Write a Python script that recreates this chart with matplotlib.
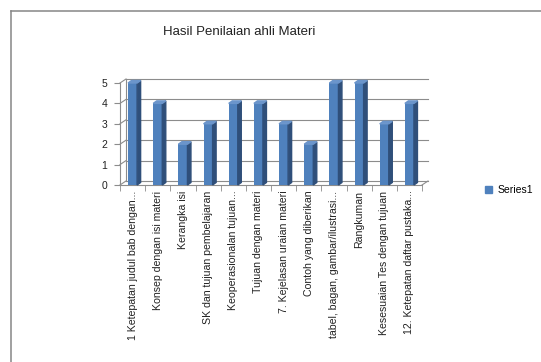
import matplotlib
matplotlib.use("Agg")
import matplotlib.pyplot as plt
from matplotlib.patches import Polygon
from matplotlib.lines import Line2D
import numpy as np

# data
categories = ["1 Ketepatan judul bab dengan...", "Konsep dengan isi materi", "Kerangka isi",
              "SK dan tujuan pembelajaran", "Keoperasionalan tujuan...", "Tujuan dengan materi",
              "7. Kejelasan uraian materi", "Contoh yang diberikan",
              "tabel, bagan, gambar/ilustrasi...", "Rangkuman", "Kesesuaian Tes dengan tujuan",
              "12. Ketepatan daftar pustaka..."]
scores = [5, 4, 2, 3, 4, 4, 3, 2, 5, 5, 3, 4]
series_name = "Series1"
y_ticks = [0, 1, 2, 3, 4, 5]

plt.rcParams['font.family'] = ['Liberation Sans', 'DejaVu Sans']

W, H, DPI = 541, 362, 100
fig = plt.figure(figsize=(W / DPI, H / DPI), dpi=DPI)
fig.patch.set_facecolor('white')

ax_l, ax_r, ax_b, ax_t = 120, 422, 185, 83   # pixel box of the front plane
ax = fig.add_axes([ax_l / W, 1 - ax_b / H, (ax_r - ax_l) / W, (ax_b - ax_t) / H])
n = len(categories)
x = np.arange(n)
ax.set_xlim(-0.5, n - 0.5)
ax.set_ylim(0, 5)

# pixel -> data conversions for the 3d look
px_x = (ax_r - ax_l) / n
px_y = (ax_b - ax_t) / 5.0
wall_dx, wall_dy = 6 / px_x, 4 / px_y
bar_dx, bar_dy = 3.5 / px_x, 2.5 / px_y

grid_c = '#8c8c8c'
# back wall gridlines and side wall
for yv in y_ticks:
    ax.plot([-0.5 + wall_dx, n - 0.5 + wall_dx], [yv + wall_dy, yv + wall_dy],
            color=grid_c, lw=0.8, clip_on=False, zorder=1)
    ax.plot([-0.5, -0.5 + wall_dx], [yv, yv + wall_dy], color=grid_c, lw=0.8,
            clip_on=False, zorder=1)
ax.plot([-0.5 + wall_dx, -0.5 + wall_dx], [wall_dy, 5 + wall_dy], color=grid_c, lw=0.8,
        clip_on=False, zorder=1)
ax.plot([n - 0.5, n - 0.5 + wall_dx], [0, wall_dy], color=grid_c, lw=0.8, clip_on=False, zorder=1)

bar_w = 0.36
front_c, side_c, top_c = '#4f81bd', '#2f4f7a', '#6b95cb'
ax.bar(x, scores, width=bar_w, color=front_c, zorder=3)
for xi, v in zip(x, scores):
    r = xi + bar_w / 2
    l = xi - bar_w / 2
    ax.add_patch(Polygon([(r, 0), (r, v), (r + bar_dx, v + bar_dy), (r + bar_dx, bar_dy)],
                         closed=True, color=side_c, zorder=3, clip_on=False))
    ax.add_patch(Polygon([(l, v), (r, v), (r + bar_dx, v + bar_dy), (l + bar_dx, v + bar_dy)],
                         closed=True, color=top_c, zorder=3, clip_on=False))

for s in ['top', 'right']:
    ax.spines[s].set_visible(False)
for s in ['left', 'bottom']:
    ax.spines[s].set_color(grid_c)
    ax.spines[s].set_linewidth(0.8)
ax.patch.set_alpha(0)

ax.set_yticks(y_ticks)
ax.tick_params(axis='y', length=4, color=grid_c, labelsize=7.5, pad=5, labelcolor='#222222')
ax.set_xticks(x)
ax.set_xticklabels(categories, rotation=90, fontsize=7.6, color='#222222')
ax.tick_params(axis='x', which='major', length=0, pad=4)
ax.set_xticks(np.arange(-0.5, n), minor=True)
ax.tick_params(axis='x', which='minor', length=4, color=grid_c, direction='out')

fig.text(239 / W, 1 - 32 / H, "Hasil Penilaian ahli Materi", ha='center', va='center',
         fontsize=9.5, color='#222222')

# outer chart frame
fx, fy = 10.5 / W, 1 - 10.5 / H
fig.add_artist(Line2D([fx, 1], [fy, fy], transform=fig.transFigure, color='#868686', lw=1.1))
fig.add_artist(Line2D([fx, fx], [0, fy], transform=fig.transFigure, color='#868686', lw=1.1))

handle = plt.Rectangle((0, 0), 1, 1, color=front_c)
fig.legend([handle], [series_name], loc='center left', bbox_to_anchor=(485 / W, 1 - 190 / H),
           frameon=False, fontsize=7.5, handlelength=0.7, handleheight=0.7, handletextpad=0.5,
           borderaxespad=0, borderpad=0)

fig.savefig("out.png", dpi=DPI)
